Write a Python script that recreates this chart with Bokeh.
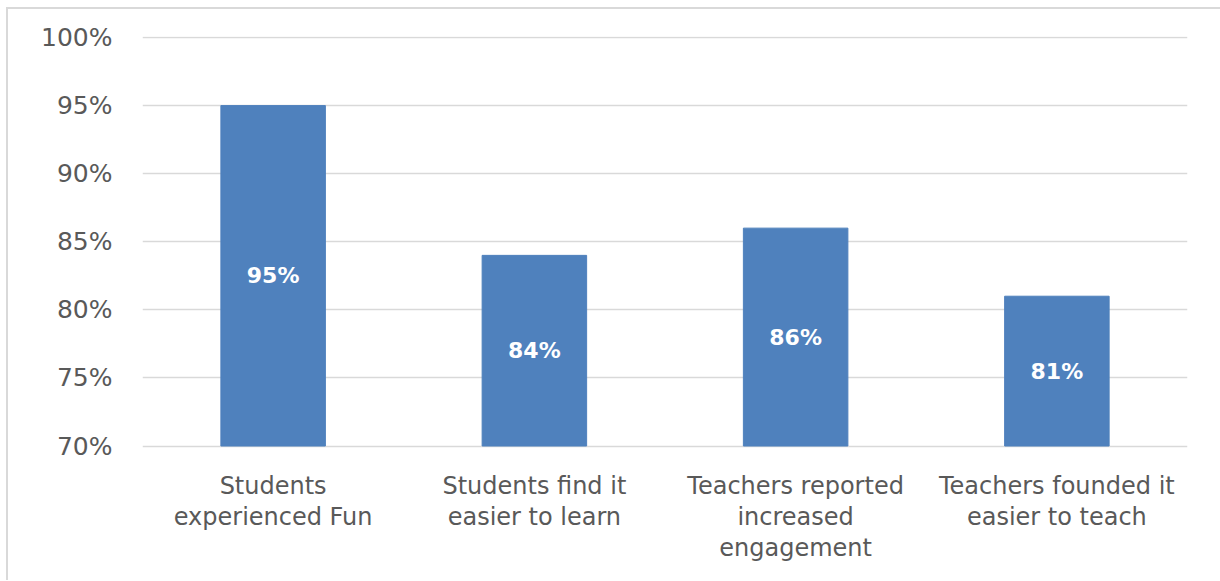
from bokeh.plotting import figure
from bokeh.models import ColumnDataSource, LabelSet, FixedTicker, PrintfTickFormatter
from bokeh.core.properties import value
from bokeh.embed import file_html
from bokeh.resources import INLINE

categories = ["Students experienced Fun", "Students find it easier to learn",
              "Teachers reported increased engagement", "Teachers founded it easier to teach"]
category_labels = ["Students\nexperienced Fun", "Students find it\neasier to learn",
                   "Teachers reported\nincreased\nengagement", "Teachers founded it\neasier to teach"]
values = [95, 84, 86, 81]
value_labels = ["95%", "84%", "86%", "81%"]
y_ticks = [70, 75, 80, 85, 90, 95, 100]

base = 70
top_val = 100
px_per_unit = 407 / 30          # 70% -> 100% spans 407 px
below_px = 136                   # room below the 70% line for category labels
label_gap_px = 26                # gap between 70% line and the labels

src = ColumnDataSource(dict(
    cat=categories, top=values, mid=[(base + v) / 2 for v in values], lab=value_labels,
    catlab=category_labels,
    laby=[base - label_gap_px / px_per_unit] * len(values)))

p = figure(x_range=categories,
           y_range=(base - below_px / px_per_unit, top_val + 1 / px_per_unit),
           width=1214, height=573,
           output_backend="svg", toolbar_location=None,
           min_border_left=134, min_border_right=35, min_border_top=27, min_border_bottom=0)
p.styles = {"border-top": "2px solid #d9d9d9", "border-left": "2px solid #d9d9d9",
            "box-sizing": "border-box", "margin-left": "6px", "margin-top": "7px"}
p.outline_line_color = None

p.vbar(x="cat", top="top", bottom=base, width=0.4, source=src,
       fill_color="#4F81BD", line_color="#4F81BD")

p.add_layout(LabelSet(x="cat", y="mid", text="lab", source=src, text_color="white",
                      text_font=value("DejaVu Sans"), text_font_style="bold",
                      text_font_size="22px", text_align="center", text_baseline="middle"))

p.text(x="cat", y="laby", text="catlab", source=src, text_color="#595959",
       text_font=value("DejaVu Sans"), text_font_size="24px",
       text_align="center", text_baseline="top", text_line_height=1.1)

p.xgrid.grid_line_color = None
p.ygrid.grid_line_color = "#d9d9d9"
p.ygrid.grid_line_width = 1.5
p.yaxis.ticker = FixedTicker(ticks=y_ticks)
p.ygrid.ticker = FixedTicker(ticks=y_ticks)
p.yaxis.formatter = PrintfTickFormatter(format="%d%%")
p.yaxis.axis_line_color = None
p.yaxis.major_tick_line_color = None
p.yaxis.minor_tick_line_color = None
p.yaxis.major_label_standoff = 24
p.yaxis.major_label_text_font = "DejaVu Sans"
p.yaxis.major_label_text_font_size = "25px"
p.yaxis.major_label_text_color = "#595959"

p.xaxis.visible = False

open("out.html", "w").write(file_html(p, INLINE))
